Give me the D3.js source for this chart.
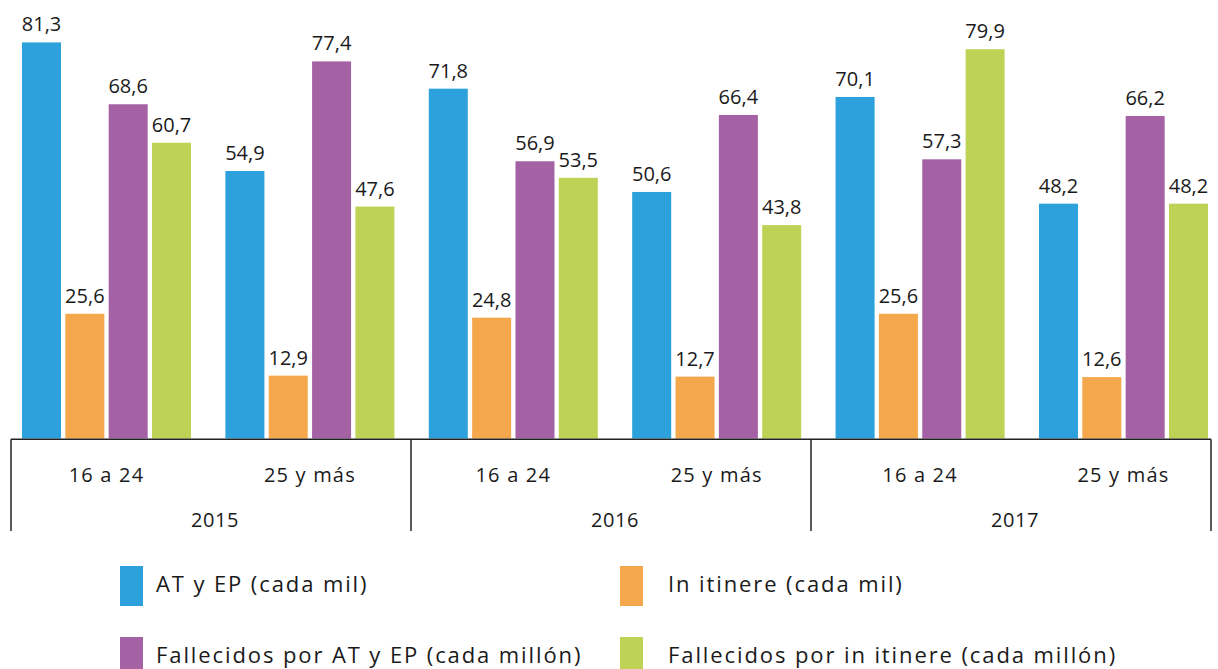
<!DOCTYPE html>
<html>
<head>
<meta charset="utf-8">
<script src="https://cdn.jsdelivr.net/npm/d3@7"></script>
<style>
  html, body { margin: 0; padding: 0; background: #fff; }
  svg { display: block; }
  text { font-family: "Open Sans", "Noto Sans", sans-serif; fill: #1a1a1a; }
</style>
</head>
<body>
<svg id="chart" width="1218" height="669"></svg>
<script>
// Accident rates by age group and year
const years = ["2015", "2016", "2017"];
const ageGroups = ["16 a 24", "25 y más"];
const seriesNames = [
  "AT y EP (cada mil)",
  "In itinere (cada mil)",
  "Fallecidos por AT y EP (cada millón)",
  "Fallecidos por in itinere (cada millón)"
];
const seriesColors = ["#2ca1dc", "#f5a74c", "#a462a5", "#bed256"];

// one array per series, ordered 2015/16-24, 2015/25+, 2016/16-24, ...
const atEp        = [81.3, 54.9, 71.8, 50.6, 70.1, 48.2];
const inItinere   = [25.6, 12.9, 24.8, 12.7, 25.6, 12.6];
const fallAtEp    = [68.6, 77.4, 56.9, 66.4, 57.3, 66.2];
const fallItinere = [60.7, 47.6, 53.5, 43.8, 79.9, 48.2];
const seriesValues = [atEp, inItinere, fallAtEp, fallItinere];

const groups = [];
years.forEach(y => ageGroups.forEach(a => groups.push({ year: y, age: a, key: y + "|" + a })));

const svg = d3.select("#chart");
const baseY = 438.5;

const y = d3.scaleLinear().domain([0, 90]).range([baseY, 0]);

const x0 = d3.scaleBand()
  .domain(groups.map(g => g.key))
  .range([22, 1208])
  .paddingInner(0.169)
  .paddingOuter(0);

const x1 = d3.scaleBand()
  .domain(d3.range(seriesNames.length))
  .range([0, x0.bandwidth()])
  .paddingInner(0.1);

const yearScale = d3.scaleBand().domain(years).range([11, 1211]);

const fmt = v => d3.format(".1f")(v).replace(".", ",");

// bars
const gBars = svg.append("g");
groups.forEach((g, gi) => {
  const gg = gBars.append("g").attr("transform", `translate(${x0(g.key)},0)`);
  seriesValues.forEach((vals, si) => {
    const v = vals[gi];
    gg.append("rect")
      .attr("x", x1(si))
      .attr("y", y(v))
      .attr("width", x1.bandwidth())
      .attr("height", baseY - y(v))
      .attr("fill", seriesColors[si]);
    gg.append("text")
      .attr("x", x1(si) + x1.bandwidth() / 2)
      .attr("y", y(v) - 11)
      .attr("text-anchor", "middle")
      .attr("font-size", 20)
      .text(fmt(v));
  });
});

// category axis frame
const axisG = svg.append("g").attr("stroke", "#222").attr("stroke-width", 1.5);
axisG.append("line").attr("x1", 11).attr("x2", 1211).attr("y1", 439.3).attr("y2", 439.3);
const bounds = years.map(yr => yearScale(yr)).concat([yearScale.range()[1]]);
bounds.forEach(bx => {
  axisG.append("line").attr("x1", bx).attr("x2", bx).attr("y1", 439.3).attr("y2", 531);
});

// age group labels
groups.forEach(g => {
  svg.append("text")
    .attr("x", x0(g.key) + x0.bandwidth() / 2)
    .attr("y", 481.5)
    .attr("text-anchor", "middle")
    .attr("font-size", 20)
    .attr("letter-spacing", 1.2)
    .text(g.age);
});

// year labels
years.forEach(yr => {
  svg.append("text")
    .attr("x", yearScale(yr) + yearScale.bandwidth() / 2 + 4)
    .attr("y", 527)
    .attr("text-anchor", "middle")
    .attr("font-size", 20)
    .attr("letter-spacing", 0.6)
    .text(yr);
});

// legend, two columns by two rows
const legendCols = [120, 620];
const legendRows = [566, 637];
const legend = svg.append("g");
seriesNames.forEach((name, i) => {
  const cx = legendCols[i % 2];
  const ry = legendRows[Math.floor(i / 2)];
  legend.append("rect")
    .attr("x", cx).attr("y", ry)
    .attr("width", 23).attr("height", 40)
    .attr("fill", seriesColors[i]);
  legend.append("text")
    .attr("x", cx + 36 + (i % 2) * 12)
    .attr("y", ry + 26)
    .attr("font-size", 22)
    .attr("letter-spacing", 1.9)
    .text(name);
});
</script>
</body>
</html>
